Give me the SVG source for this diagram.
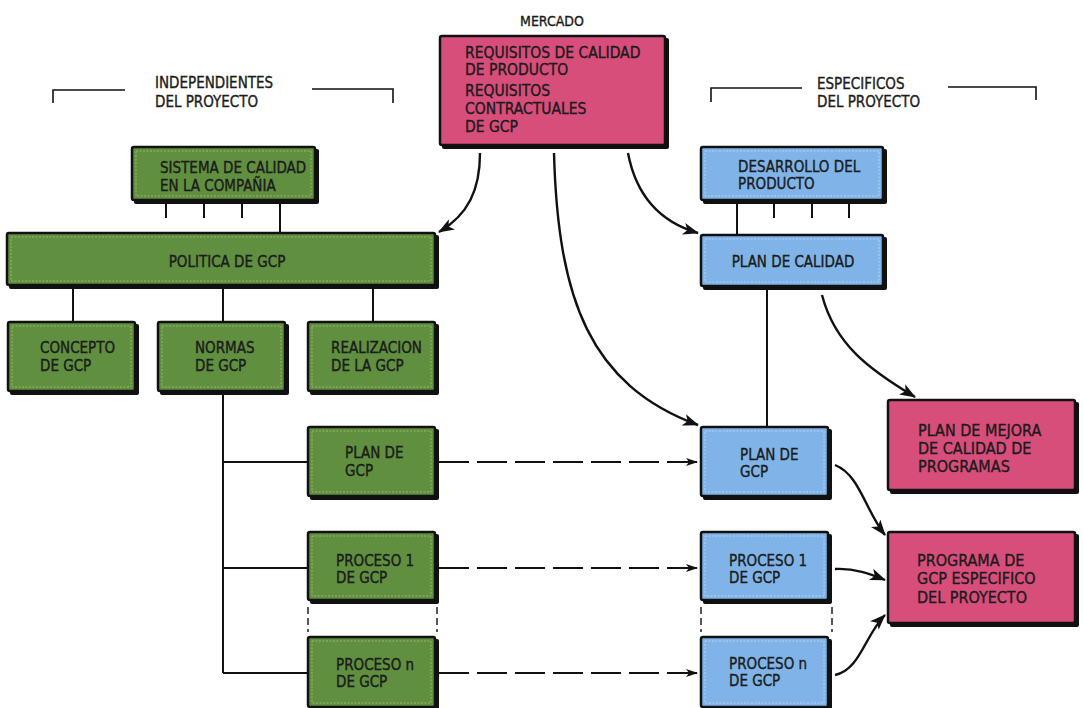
<svg xmlns="http://www.w3.org/2000/svg" width="1083" height="708" viewBox="0 0 1083 708">
  <style>
    text { font-family: "Liberation Sans Narrow", "DejaVu Sans Condensed", "Liberation Sans", sans-serif; fill: #1b1b1b; stroke: #1b1b1b; stroke-width: 0.35; font-size: 15px; }
    .big { font-size: 16px; }
    .top { font-size: 15.5px; }
    .mid { text-anchor: middle; }
    .shadow { fill: #111; }
    .box { stroke: #111; stroke-width: 2.5; }
    .green { fill: #5f8f3f; }
    .blue { fill: #80b4e8; }
    .pink { fill: #d84e7b; }
    .inner { fill: none; stroke: #c9d98a; stroke-width: 0.8; stroke-dasharray: 2 1.5; opacity: 0.7; }
    .line { fill: none; stroke: #111; stroke-width: 2; }
    .thin { fill: none; stroke: #111; stroke-width: 1.6; }
    .curve { fill: none; stroke: #111; stroke-width: 2.4; marker-end: url(#head); }
    .dash { fill: none; stroke: #111; stroke-width: 2; stroke-dasharray: 30 8; marker-end: url(#small); }
    .vdash { fill: none; stroke: #111; stroke-width: 1.4; stroke-dasharray: 7 4; }
  </style>
  <defs>
    <marker id="head" markerUnits="userSpaceOnUse" markerWidth="16" markerHeight="12" refX="15" refY="6" orient="auto">
      <path d="M0,0 L16,6 L0,12 L4,6 z" fill="#111"/>
    </marker>
    <marker id="small" markerUnits="userSpaceOnUse" markerWidth="12" markerHeight="8" refX="12" refY="4" orient="auto">
      <path d="M0,0 L12,4 L0,8 L3,4 z" fill="#111"/>
    </marker>
  </defs>

  <rect width="1083" height="708" fill="#ffffff"/>

  <!-- section headings with brackets -->
  <g id="heading-independientes">
    <path class="thin" d="M53,103 V90 H125 M312,89 H393 V103"/>
    <text x="155" y="88">INDEPENDIENTES</text>
    <text x="155" y="107">DEL PROYECTO</text>
  </g>
  <g id="heading-especificos">
    <path class="thin" d="M711,102 V88 H802 M948,87 H1036 V100"/>
    <text x="817" y="89">ESPECIFICOS</text>
    <text x="817" y="107">DEL PROYECTO</text>
  </g>

  <!-- connectors -->
  <g id="connectors">
    <!-- sistema ticks -->
    <path class="line" d="M166,202 V218 M204,202 V218 M242,202 V218 M280,202 V233"/>
    <!-- politica to sub-boxes -->
    <path class="line" d="M73,287 V322 M223,287 V322 M373,287 V322"/>
    <!-- normas tree -->
    <path class="line" d="M223,393 V673 M223,462 H308 M223,568 H308 M223,673 H308"/>
    <!-- desarrollo ticks -->
    <path class="line" d="M737,202 V235 M774,202 V218 M812,202 V218 M849,202 V218"/>
    <!-- plan de calidad to plan de gcp -->
    <path class="line" d="M767,288 V427"/>
    <!-- dotted continuation between process boxes -->
    <path class="vdash" d="M308,607 V632 M437,607 V632 M701,607 V632 M832,607 V632"/>
    <!-- mercado curves -->
    <path class="curve" d="M480,153 C480,190 468,215 439,232"/>
    <path class="curve" d="M628,153 C636,195 660,222 698,233"/>
    <path class="curve" d="M554,153 C558,300 590,385 698,425"/>
    <!-- plan de calidad to plan de mejora -->
    <path class="curve" d="M822,295 C835,345 870,370 915,397"/>
    <!-- dashed links green to blue -->
    <path class="dash" d="M439,462 H698"/>
    <path class="dash" d="M439,568 H698"/>
    <path class="dash" d="M439,673 H698"/>
    <!-- blue to programa -->
    <path class="curve" d="M835,465 C860,475 865,510 885,535"/>
    <path class="curve" d="M835,569 C855,568 870,574 885,580"/>
    <path class="curve" d="M835,675 C860,670 865,635 885,615"/>
  </g>

  <!-- market node -->
  <g id="mercado">
    <text class="mid" x="552" y="26" style="font-size:14px">MERCADO</text>
    <rect class="shadow" x="442" y="38" width="227" height="111" rx="2"/>
    <rect class="box pink" x="440" y="36" width="225" height="109" rx="2"/>
    <text class="top" x="465" y="58">REQUISITOS DE CALIDAD</text>
    <text class="top" x="465" y="75">DE PRODUCTO</text>
    <text class="top" x="465" y="96">REQUISITOS</text>
    <text class="top" x="465" y="114">CONTRACTUALES</text>
    <text class="top" x="465" y="132">DE GCP</text>
  </g>

  <!-- left column: company-wide -->
  <g id="sistema">
    <rect class="shadow" x="134" y="149" width="185" height="55" rx="2"/>
    <rect class="box green" x="132" y="147" width="183" height="53" rx="2"/>
    <rect class="inner" x="136" y="151" width="175" height="45"/>
    <text x="160" y="173">SISTEMA DE CALIDAD</text>
    <text x="160" y="191">EN LA COMPAÑIA</text>
  </g>
  <g id="politica">
    <rect class="shadow" x="9" y="235" width="430" height="54" rx="2"/>
    <rect class="box green" x="7" y="233" width="428" height="52" rx="2"/>
    <rect class="inner" x="11" y="237" width="420" height="44"/>
    <text class="mid" x="227" y="267">POLITICA DE GCP</text>
  </g>
  <g id="concepto">
    <rect class="shadow" x="10" y="324" width="129" height="71" rx="2"/>
    <rect class="box green" x="8" y="322" width="127" height="69" rx="2"/>
    <rect class="inner" x="12" y="326" width="119" height="61"/>
    <text x="40" y="353">CONCEPTO</text>
    <text x="40" y="371">DE GCP</text>
  </g>
  <g id="normas">
    <rect class="shadow" x="160" y="324" width="129" height="71" rx="2"/>
    <rect class="box green" x="158" y="322" width="127" height="69" rx="2"/>
    <rect class="inner" x="162" y="326" width="119" height="61"/>
    <text x="195" y="353">NORMAS</text>
    <text x="195" y="371">DE GCP</text>
  </g>
  <g id="realizacion">
    <rect class="shadow" x="310" y="324" width="129" height="71" rx="2"/>
    <rect class="box green" x="308" y="322" width="127" height="69" rx="2"/>
    <rect class="inner" x="312" y="326" width="119" height="61"/>
    <text x="331" y="353">REALIZACION</text>
    <text x="331" y="371">DE LA GCP</text>
  </g>
  <g id="plan-gcp-general">
    <rect class="shadow" x="310" y="429" width="129" height="71" rx="2"/>
    <rect class="box green" x="308" y="427" width="127" height="69" rx="2"/>
    <rect class="inner" x="312" y="431" width="119" height="61"/>
    <text x="345" y="458">PLAN DE</text>
    <text x="345" y="476">GCP</text>
  </g>
  <g id="proceso-1-general">
    <rect class="shadow" x="310" y="534" width="129" height="70" rx="2"/>
    <rect class="box green" x="308" y="532" width="127" height="68" rx="2"/>
    <rect class="inner" x="312" y="536" width="119" height="60"/>
    <text x="336" y="566">PROCESO 1</text>
    <text x="336" y="583">DE GCP</text>
  </g>
  <g id="proceso-n-general">
    <rect class="shadow" x="310" y="639" width="129" height="72" rx="2"/>
    <rect class="box green" x="308" y="637" width="127" height="70" rx="2"/>
    <rect class="inner" x="312" y="641" width="119" height="62"/>
    <text x="336" y="670">PROCESO n</text>
    <text x="336" y="687">DE GCP</text>
  </g>

  <!-- right column: project-specific -->
  <g id="desarrollo">
    <rect class="shadow" x="703" y="149" width="184" height="55" rx="2"/>
    <rect class="box blue" x="701" y="147" width="182" height="53" rx="2"/>
    <rect class="inner" x="705" y="151" width="174" height="45" style="stroke:#d8ecff"/>
    <text x="738" y="172">DESARROLLO DEL</text>
    <text x="738" y="189">PRODUCTO</text>
  </g>
  <g id="plan-calidad">
    <rect class="shadow" x="703" y="237" width="184" height="53" rx="2"/>
    <rect class="box blue" x="701" y="235" width="182" height="51" rx="2"/>
    <rect class="inner" x="705" y="239" width="174" height="43" style="stroke:#d8ecff"/>
    <text class="mid" x="793" y="267">PLAN DE CALIDAD</text>
  </g>
  <g id="plan-gcp-proyecto">
    <rect class="shadow" x="703" y="429" width="129" height="71" rx="2"/>
    <rect class="box blue" x="701" y="427" width="127" height="69" rx="2"/>
    <rect class="inner" x="705" y="431" width="119" height="61" style="stroke:#d8ecff"/>
    <text x="740" y="460">PLAN DE</text>
    <text x="740" y="477">GCP</text>
  </g>
  <g id="proceso-1-proyecto">
    <rect class="shadow" x="703" y="534" width="129" height="70" rx="2"/>
    <rect class="box blue" x="701" y="532" width="127" height="68" rx="2"/>
    <rect class="inner" x="705" y="536" width="119" height="60" style="stroke:#d8ecff"/>
    <text x="729" y="566">PROCESO 1</text>
    <text x="729" y="583">DE GCP</text>
  </g>
  <g id="proceso-n-proyecto">
    <rect class="shadow" x="703" y="639" width="129" height="72" rx="2"/>
    <rect class="box blue" x="701" y="637" width="127" height="70" rx="2"/>
    <rect class="inner" x="705" y="641" width="119" height="62" style="stroke:#d8ecff"/>
    <text x="729" y="669">PROCESO n</text>
    <text x="729" y="686">DE GCP</text>
  </g>

  <!-- outcomes -->
  <g id="plan-mejora">
    <rect class="shadow" x="890" y="402" width="189" height="92" rx="2"/>
    <rect class="box pink" x="888" y="400" width="187" height="90" rx="2"/>
    <text class="big" x="918" y="436">PLAN DE MEJORA</text>
    <text class="big" x="918" y="454">DE CALIDAD DE</text>
    <text class="big" x="918" y="472">PROGRAMAS</text>
  </g>
  <g id="programa-gcp">
    <rect class="shadow" x="890" y="534" width="189" height="93" rx="2"/>
    <rect class="box pink" x="888" y="532" width="187" height="91" rx="2"/>
    <text class="big" x="917" y="566">PROGRAMA DE</text>
    <text class="big" x="917" y="584">GCP ESPECIFICO</text>
    <text class="big" x="917" y="603">DEL PROYECTO</text>
  </g>
</svg>
